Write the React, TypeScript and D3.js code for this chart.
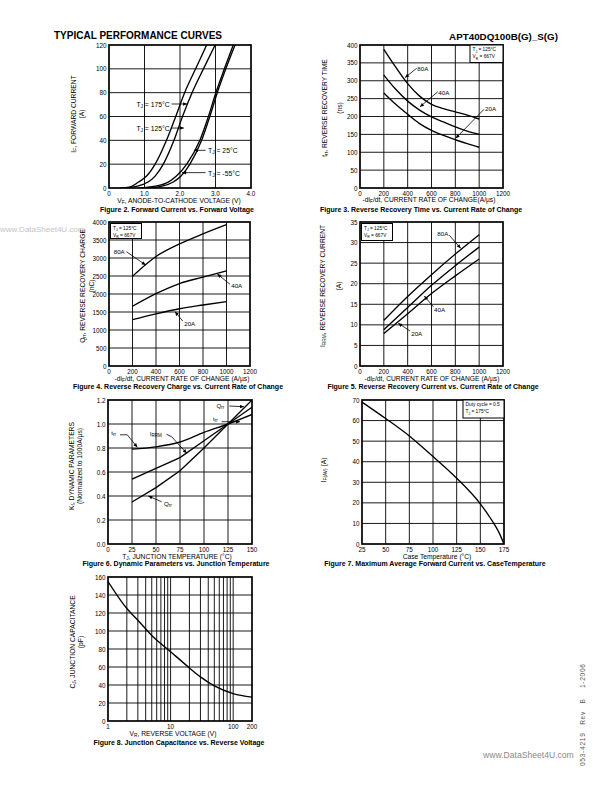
import React from 'react';
import * as d3 from 'd3';

type Pt = [number, number];

// ---------- Figure 2 data ----------
const f2XTicks = [0, 1, 2, 3, 4];
const f2XLabels = ['0', '1.0', '2.0', '3.0', '4.0'];
const f2YTicks = [0, 20, 40, 60, 80, 100, 120];
const fwd175: Pt[] = [[0.3, 0], [0.6, 1], [0.83, 5], [1.06, 10], [1.3, 20], [1.62, 40], [1.88, 60], [2.13, 80], [2.44, 100], [2.75, 120]];
const fwd125: Pt[] = [[0.45, 0], [0.8, 1.5], [1.1, 5], [1.3, 10], [1.53, 20], [1.83, 40], [2.07, 60], [2.34, 80], [2.66, 100], [2.99, 120]];
const fwd25: Pt[] = [[0.83, 0], [1.3, 1.5], [1.67, 5], [1.9, 10], [2.19, 20], [2.56, 40], [2.8, 60], [3.01, 80], [3.25, 100], [3.5, 120]];
const fwdM55: Pt[] = [[1.1, 0], [1.5, 1.5], [1.81, 5], [2.03, 10], [2.28, 20], [2.61, 40], [2.84, 60], [3.05, 80], [3.29, 100], [3.55, 120]];

// ---------- Figures 3-5 shared ----------
const rateTicks = [0, 200, 400, 600, 800, 1000, 1200];
const rateLabels = rateTicks.map(String);
const rate9 = [200, 300, 400, 500, 600, 700, 800, 900, 1000];
const rate5 = [200, 400, 600, 800, 1000];

// Figure 3 (trr)
const trrTicks = [0, 50, 100, 150, 200, 250, 300, 350, 400];
const trr80 = [388, 338, 292, 257, 234, 222, 213, 204, 193];
const trr40 = [316, 276, 243, 218, 199, 185, 171, 159, 150];
const trr20 = [266, 234, 206, 180, 161, 147, 135, 124, 114];

// Figure 4 (Qrr)
const qrrTicks = [0, 500, 1000, 1500, 2000, 2500, 3000, 3500, 4000];
const qrr80 = [2490, 3040, 3390, 3670, 3925];
const qrr40 = [1660, 2010, 2290, 2470, 2645];
const qrr20 = [1290, 1450, 1590, 1695, 1790];

// Figure 5 (IRRM)
const irrTicks = [0, 5, 10, 15, 20, 25, 30, 35];
const irr80 = [11.1, 16.9, 22.2, 27.2, 31.9];
const irr40 = [8.8, 14.2, 19.6, 24.4, 28.9];
const irr20 = [7.9, 12.7, 17.6, 21.9, 26.0];

// Figure 6 (Kf)
const tjTicks = [0, 25, 50, 75, 100, 125, 150];
const kfTicks = [0, 0.2, 0.4, 0.6, 0.8, 1.0, 1.2];
const kfLabels = ['0.0', '0.2', '0.4', '0.6', '0.8', '1.0', '1.2'];
const tjPts = [25, 50, 75, 100, 125, 150];
const kfTrr = [0.79, 0.81, 0.85, 0.93, 1.0, 1.08];
const kfIrrm = [0.54, 0.63, 0.72, 0.86, 1.0, 1.14];
const kfQrr = [0.35, 0.47, 0.61, 0.8, 1.0, 1.2];

// Figure 7 (IF(AV))
const tcTicks = [25, 50, 75, 100, 125, 150, 175];
const ifavTicks = [0, 10, 20, 30, 40, 50, 60, 70];
const tcPts = [25, 50, 75, 100, 125, 150, 160, 170, 175];
const ifavVals = [69, 61, 52.5, 42.5, 32, 19.5, 13, 5.3, 0];

// Figure 8 (Cj)
const vrTicks = [1, 10, 100, 200];
const vrGrid = [2, 3, 4, 5, 6, 7, 8, 9, 10, 20, 30, 40, 50, 60, 70, 80, 90, 100];
const cjTicks = [0, 20, 40, 60, 80, 100, 120, 140, 160];
const vrPts = [1, 2, 3, 5, 10, 20, 30, 50, 100, 200];
const cjVals = [155, 125, 112, 95, 77, 59, 49, 39, 30.5, 26.5];

const FONT = "'Liberation Sans', Arial, Helvetica, sans-serif";
const zip = (xs: number[], ys: number[]): Pt[] => xs.map((x, i) => [x, ys[i]] as Pt);

function Rich({ text, size }: { text: string; size: number }) {
  const parts: { t: string; sub: boolean }[] = [];
  const re = /_\{([^}]*)\}/g;
  let last = 0;
  let m: RegExpExecArray | null;
  while ((m = re.exec(text))) {
    if (m.index > last) parts.push({ t: text.slice(last, m.index), sub: false });
    parts.push({ t: m[1], sub: true });
    last = m.index + m[0].length;
  }
  if (last < text.length) parts.push({ t: text.slice(last), sub: false });
  const shift = size * 0.3;
  let prevSub = false;
  return (
    <>
      {parts.map((p, i) => {
        let dy = 0;
        if (p.sub && !prevSub) dy = shift;
        if (!p.sub && prevSub) dy = -shift;
        prevSub = p.sub;
        return (
          <tspan key={i} dy={dy} fontSize={p.sub ? size * 0.72 : size}>
            {p.t}
          </tspan>
        );
      })}
    </>
  );
}

interface Series { pts: Pt[]; curve?: d3.CurveFactory; }
interface Note { text: string; at: Pt; anchor: 'start' | 'end'; arrow: Pt[]; }
interface Legend { lines: string[]; corner: 'tl' | 'tr'; w: number; h: number; }
interface ChartProps {
  id: string;
  box: { x: number; y: number; w: number; h: number };
  xLog?: boolean;
  xDomain: [number, number];
  yDomain: [number, number];
  xTicks: number[];
  xLabels: string[];
  yTicks: number[];
  yLabels: string[];
  xGrid: number[];
  yGrid: number[];
  series: Series[];
  notes: Note[];
  noteSize?: number;
  legend?: Legend;
  xTitle: { text: string; cx: number; cy: number };
  yTitle: { lines: { text: string; x: number }[]; cy: number };
  caption: { text: string; cx: number; cy: number };
}

function Chart(p: ChartProps) {
  const { x, y, w, h } = p.box;
  const xs: any = p.xLog
    ? d3.scaleLog().domain(p.xDomain).range([x, x + w])
    : d3.scaleLinear().domain(p.xDomain).range([x, x + w]);
  const ys = d3.scaleLinear().domain(p.yDomain).range([y + h, y]);
  const arrowLine = d3.line<Pt>().x(d => xs(d[0])).y(d => ys(d[1]));
  const tickSize = 6.3;
  const titleSize = 6.7;
  const noteSize = p.noteSize ?? 6.2;
  const clipId = `clip-${p.id}`;
  return (
    <g>
      <defs>
        <clipPath id={clipId}>
          <rect x={x} y={y} width={w} height={h} />
        </clipPath>
      </defs>
      {p.xGrid.map((v, i) => (
        <line key={'gx' + i} x1={xs(v)} x2={xs(v)} y1={y} y2={y + h} stroke="#000" strokeWidth={0.9} />
      ))}
      {p.yGrid.map((v, i) => (
        <line key={'gy' + i} x1={x} x2={x + w} y1={ys(v)} y2={ys(v)} stroke="#000" strokeWidth={0.9} />
      ))}
      <g clipPath={`url(#${clipId})`}>
        {p.series.map((s, i) => {
          const gen = d3.line<Pt>().x(d => xs(d[0])).y(d => ys(d[1])).curve(s.curve ?? d3.curveMonotoneX);
          return <path key={'s' + i} d={gen(s.pts) || ''} fill="none" stroke="#000" strokeWidth={1.35} />;
        })}
      </g>
      <rect x={x} y={y} width={w} height={h} fill="none" stroke="#000" strokeWidth={1.7} />
      {p.legend && (() => {
        const L = p.legend!;
        const bx = L.corner === 'tl' ? x + 1.5 : x + w - L.w;
        const by = L.corner === 'tl' ? y + 1.5 : y;
        return (
          <g>
            <rect x={bx} y={by} width={L.w} height={L.h} fill="#fff" stroke="#000" strokeWidth={1} />
            {L.lines.map((t, i) => (
              <text key={i} x={bx + 2.5} y={by + 6.3 + i * 7} fontSize={4.8} fontFamily={FONT}>
                <Rich text={t} size={4.8} />
              </text>
            ))}
          </g>
        );
      })()}
      {p.notes.map((n, i) => (
        <g key={'n' + i}>
          <path d={arrowLine(n.arrow) || ''} fill="none" stroke="#000" strokeWidth={0.8} markerEnd="url(#ah)" />
          <text x={xs(n.at[0])} y={ys(n.at[1])} dominantBaseline="central" textAnchor={n.anchor} fontSize={noteSize} fontFamily={FONT}>
            <Rich text={n.text} size={noteSize} />
          </text>
        </g>
      ))}
      {p.xTicks.map((v, i) => (
        <text key={'xt' + i} x={xs(v)} y={y + h + 5} textAnchor="middle" dominantBaseline="central" fontSize={tickSize} fontFamily={FONT}>
          {p.xLabels[i]}
        </text>
      ))}
      {p.yTicks.map((v, i) => (
        <text key={'yt' + i} x={x - 2.5} y={ys(v)} textAnchor="end" dominantBaseline="central" fontSize={tickSize} fontFamily={FONT}>
          {p.yLabels[i]}
        </text>
      ))}
      <text x={p.xTitle.cx} y={p.xTitle.cy} textAnchor="middle" dominantBaseline="central" fontSize={titleSize} fontFamily={FONT}>
        <Rich text={p.xTitle.text} size={titleSize} />
      </text>
      {p.yTitle.lines.map((l, i) => (
        <text key={'ytl' + i} transform={`translate(${l.x},${p.yTitle.cy}) rotate(-90)`} textAnchor="middle" dominantBaseline="central" fontSize={titleSize} fontFamily={FONT}>
          <Rich text={l.text} size={titleSize} />
        </text>
      ))}
      <text x={p.caption.cx} y={p.caption.cy} textAnchor="middle" dominantBaseline="central" fontSize={7} fontWeight="bold" fontFamily={FONT}>
        {p.caption.text}
      </text>
    </g>
  );
}

const inner = (t: number[]) => t.slice(1, -1);

export default function App() {
  const legendStd: Legend = { lines: ['T_{J} = 125°C', 'V_{R} = 667V'], corner: 'tr', w: 33, h: 17.5 };
  const charts: ChartProps[] = [
    {
      id: 'f2', box: { x: 109, y: 45, w: 142, h: 143 },
      xDomain: [0, 4], yDomain: [0, 120],
      xTicks: f2XTicks, xLabels: f2XLabels, yTicks: f2YTicks, yLabels: f2YTicks.map(String),
      xGrid: inner(f2XTicks), yGrid: inner(f2YTicks),
      series: [{ pts: fwd175 }, { pts: fwd125 }, { pts: fwd25 }, { pts: fwdM55 }],
      noteSize: 6.8,
      notes: [
        { text: 'T_{J} = 175°C', at: [1.71, 70.5], anchor: 'end', arrow: [[1.76, 70.5], [2.2, 70.5]] },
        { text: 'T_{J} = 125°C', at: [1.71, 50.3], anchor: 'end', arrow: [[1.76, 50.3], [2.11, 50.3]] },
        { text: 'T_{J} = 25°C', at: [2.79, 31.6], anchor: 'start', arrow: [[2.72, 31.6], [2.39, 31.6]] },
        { text: 'T_{J} = -55°C', at: [2.79, 12.9], anchor: 'start', arrow: [[2.72, 12.9], [2.06, 12.9]] },
      ],
      xTitle: { text: 'V_{F}, ANODE-TO-CATHODE VOLTAGE (V)', cx: 179, cy: 199.5 },
      yTitle: { lines: [{ text: 'I_{F}, FORWARD CURRENT', x: 73 }, { text: '(A)', x: 81 }], cy: 114 },
      caption: { text: 'Figure 2. Forward Current vs. Forward Voltage', cx: 177, cy: 209 },
    },
    {
      id: 'f3', box: { x: 360, y: 45, w: 143, h: 143 },
      xDomain: [0, 1200], yDomain: [0, 400],
      xTicks: rateTicks, xLabels: rateLabels, yTicks: trrTicks, yLabels: trrTicks.map(String),
      xGrid: inner(rateTicks), yGrid: inner(trrTicks),
      series: [{ pts: zip(rate9, trr80) }, { pts: zip(rate9, trr40) }, { pts: zip(rate9, trr20) }],
      legend: legendStd,
      notes: [
        { text: '80A', at: [481, 335], anchor: 'start', arrow: [[476, 335], [378, 309]] },
        { text: '40A', at: [657, 269], anchor: 'start', arrow: [[652, 269], [503, 227]] },
        { text: '20A', at: [1049, 223], anchor: 'start', arrow: [[1040, 220], [803, 139]] },
      ],
      xTitle: { text: '-di_{F}/dt, CURRENT RATE OF CHANGE(A/µs)', cx: 429, cy: 198.5 },
      yTitle: { lines: [{ text: 't_{rr}, REVERSE RECOVERY TIME', x: 324 }, { text: '(ns)', x: 339 }], cy: 108 },
      caption: { text: 'Figure 3. Reverse Recovery Time vs. Current Rate of Change', cx: 421, cy: 209 },
    },
    {
      id: 'f4', box: { x: 109, y: 222, w: 141, h: 144 },
      xDomain: [0, 1200], yDomain: [0, 4000],
      xTicks: rateTicks, xLabels: rateLabels, yTicks: qrrTicks, yLabels: qrrTicks.map(String),
      xGrid: inner(rateTicks), yGrid: inner(qrrTicks),
      series: [{ pts: zip(rate5, qrr80) }, { pts: zip(rate5, qrr40) }, { pts: zip(rate5, qrr20) }],
      legend: { ...legendStd, corner: 'tl', w: 31, h: 15 },
      notes: [
        { text: '80A', at: [40, 3203], anchor: 'start', arrow: [[148, 3175], [312, 2806]] },
        { text: '40A', at: [1040, 2250], anchor: 'start', arrow: [[1030, 2269], [922, 2556]] },
        { text: '20A', at: [640, 1203], anchor: 'start', arrow: [[627, 1250], [562, 1508]] },
      ],
      xTitle: { text: '-di_{F}/dt, CURRENT RATE OF CHANGE (A/µs)', cx: 182, cy: 377.5 },
      yTitle: { lines: [{ text: 'Q_{rr}, REVERSE RECOVERY CHARGE', x: 82 }, { text: '(nC)', x: 90.5 }], cy: 286 },
      caption: { text: 'Figure 4. Reverse Recovery Charge vs. Current Rate of Change', cx: 178, cy: 386.5 },
    },
    {
      id: 'f5', box: { x: 360, y: 222, w: 143, h: 144 },
      xDomain: [0, 1200], yDomain: [0, 35],
      xTicks: rateTicks, xLabels: rateLabels, yTicks: irrTicks, yLabels: irrTicks.map(String),
      xGrid: inner(rateTicks), yGrid: inner(irrTicks),
      series: [{ pts: zip(rate5, irr80) }, { pts: zip(rate5, irr40) }, { pts: zip(rate5, irr20) }],
      legend: { ...legendStd, corner: 'tl', w: 31, h: 17 },
      notes: [
        { text: '80A', at: [649, 32.25], anchor: 'start', arrow: [[749, 31.8], [845, 28.6]] },
        { text: '40A', at: [622, 13.85], anchor: 'start', arrow: [[615, 14.4], [540, 17]] },
        { text: '20A', at: [430, 8.1], anchor: 'start', arrow: [[420, 8.5], [321, 10.4]] },
      ],
      xTitle: { text: '-di_{F}/dt, CURRENT RATE OF CHANGE (A/µs)', cx: 432, cy: 377.5 },
      yTitle: { lines: [{ text: 'I_{RRM}, REVERSE RECOVERY CURRENT', x: 322 }, { text: '(A)', x: 338 }], cy: 286 },
      caption: { text: 'Figure 5. Reverse Recovery Current vs. Current Rate of Change', cx: 433, cy: 386.5 },
    },
    {
      id: 'f6', box: { x: 108, y: 400, w: 144, h: 144 },
      xDomain: [0, 150], yDomain: [0, 1.2],
      xTicks: tjTicks, xLabels: tjTicks.map(String), yTicks: kfTicks, yLabels: kfLabels,
      xGrid: inner(tjTicks), yGrid: inner(kfTicks),
      series: [
        { pts: zip(tjPts, kfTrr) },
        { pts: zip(tjPts, kfIrrm), curve: d3.curveLinear },
        { pts: zip(tjPts, kfQrr), curve: d3.curveLinear },
      ],
      notes: [
        { text: 't_{rr}', at: [3.5, 0.936], anchor: 'start', arrow: [[12.5, 0.91], [20.1, 0.91], [30.5, 0.806]] },
        { text: 'I_{RRM}', at: [43.5, 0.922], anchor: 'start', arrow: [[61, 0.914], [66.3, 0.894], [82, 0.756]] },
        { text: 'Q_{rr}', at: [58.3, 0.344], anchor: 'start', arrow: [[55.9, 0.352], [42, 0.4]] },
        { text: 'Q_{rr}', at: [113, 1.158], anchor: 'start', arrow: [[126.4, 1.15], [141.7, 1.144]] },
        { text: 't_{rr}', at: [109.5, 1.047], anchor: 'start', arrow: [[118.4, 1.019], [137.5, 1.019]] },
      ],
      xTitle: { text: 'T_{J}, JUNCTION TEMPERATURE (°C)', cx: 177, cy: 555.5 },
      yTitle: { lines: [{ text: 'K_{f}, DYNAMIC PARAMETERS', x: 71 }, { text: '(Normalized  to 1000A/µs)', x: 78.5 }], cy: 466 },
      caption: { text: 'Figure 6. Dynamic Parameters vs. Junction Temperature', cx: 176, cy: 563.5 },
    },
    {
      id: 'f7', box: { x: 362, y: 400, w: 142, h: 144 },
      xDomain: [25, 175], yDomain: [0, 70],
      xTicks: tcTicks, xLabels: tcTicks.map(String), yTicks: ifavTicks, yLabels: ifavTicks.map(String),
      xGrid: inner(tcTicks), yGrid: inner(ifavTicks),
      series: [{ pts: zip(tcPts, ifavVals) }],
      legend: { lines: ['Duty cycle = 0.5', 'T_{J} = 175°C'], corner: 'tr', w: 41, h: 18 },
      notes: [],
      xTitle: { text: 'Case Temperature (°C)', cx: 437, cy: 555.5 },
      yTitle: { lines: [{ text: 'I_{F(AV)}  (A)', x: 323 }], cy: 470 },
      caption: { text: 'Figure 7. Maximum Average Forward Current vs. CaseTemperature', cx: 435, cy: 563.5 },
    },
    {
      id: 'f8', box: { x: 108, y: 577, w: 144, h: 144 },
      xLog: true,
      xDomain: [1, 200], yDomain: [0, 160],
      xTicks: vrTicks, xLabels: vrTicks.map(String), yTicks: cjTicks, yLabels: cjTicks.map(String),
      xGrid: vrGrid, yGrid: inner(cjTicks),
      series: [{ pts: zip(vrPts, cjVals) }],
      notes: [],
      xTitle: { text: 'V_{R}, REVERSE VOLTAGE (V)', cx: 173, cy: 733 },
      yTitle: { lines: [{ text: 'C_{J}, JUNCTION CAPACITANCE', x: 72 }, { text: '(pF)', x: 80 }], cy: 642 },
      caption: { text: 'Figure 8.  Junction Capacitance vs. Reverse Voltage', cx: 179, cy: 742 },
    },
  ];

  return (
    <svg width={612} height={792} viewBox="0 0 612 792" style={{ position: 'absolute', left: 0, top: 0, background: '#fff' }}>
      <defs>
        <marker id="ah" viewBox="0 0 10 10" refX={10} refY={5} markerWidth={5} markerHeight={4} markerUnits="userSpaceOnUse" orient="auto">
          <path d="M0,0.5 L10,5 L0,9.5 z" fill="#000" />
        </marker>
      </defs>
      <rect x={0} y={0} width={612} height={792} fill="#fff" />
      <text x={54} y={39} fontSize={10} fontWeight="bold" fontFamily={FONT}>TYPICAL PERFORMANCE CURVES</text>
      <text x={558} y={40} textAnchor="end" fontSize={9.8} fontWeight="bold" fontFamily={FONT}>APT40DQ100B(G)_S(G)</text>
      <text x={0} y={232} fontSize={8} fill="#c4c4c4" fontFamily={FONT}>www.DataSheet4U.com</text>
      {charts.map(c => <Chart key={c.id} {...c} />)}
      <text transform="translate(585,766) rotate(-90)" fontSize={6.6} fill="#555" fontFamily={FONT} textLength={102} lengthAdjust="spacing" style={{ whiteSpace: 'pre' }}>
        {'053-4219   Rev   B    1-2006'}
      </text>
      <text x={483} y={758} fontSize={8.6} fill="#8a8a8a" fontFamily={FONT}>www.DataSheet4U.com</text>
    </svg>
  );
}
